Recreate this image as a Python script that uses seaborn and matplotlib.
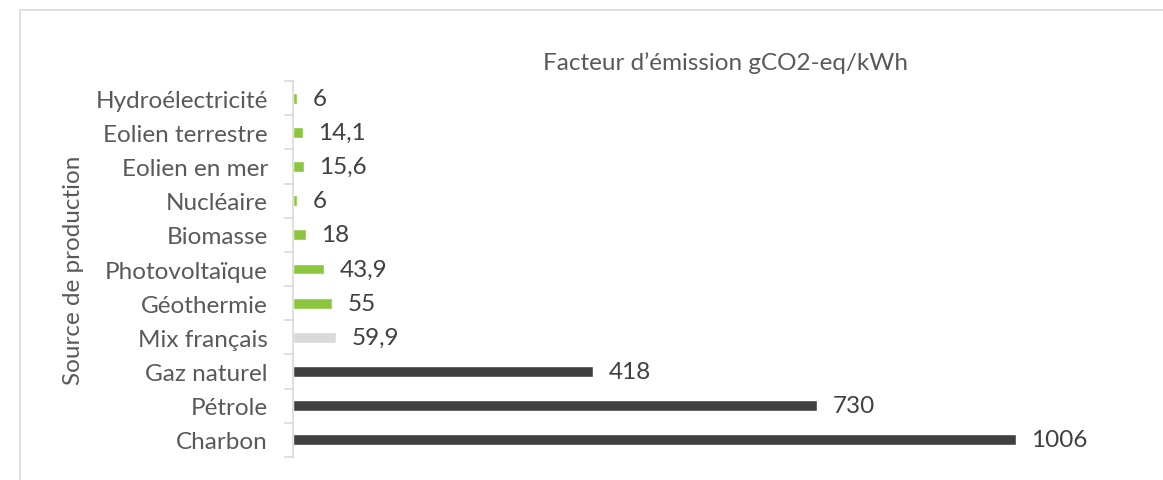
import matplotlib
matplotlib.use("Agg")
import matplotlib.pyplot as plt
import seaborn as sns
import pandas as pd
from matplotlib.patches import Rectangle

sources = ["Hydroélectricité", "Eolien terrestre", "Eolien en mer", "Nucléaire",
           "Biomasse", "Photovoltaïque", "Géothermie", "Mix français",
           "Gaz naturel", "Pétrole", "Charbon"]
emissions = [6, 14.1, 15.6, 6, 18, 43.9, 55, 59.9, 418, 730, 1006]
labels = ["6", "14,1", "15,6", "6", "18", "43,9", "55", "59,9", "418", "730", "1006"]
groups = ["renouvelable"] * 7 + ["mix"] + ["fossile"] * 3

group_order = ["renouvelable", "mix", "fossile"]
group_colors = {"renouvelable": "#8CC63F", "mix": "#D9D9D9", "fossile": "#404040"}

df = pd.DataFrame({"source": sources, "emission": emissions,
                   "groupe": groups, "label": labels})

sns.set_theme(style="white")
plt.rcParams["font.family"] = ["Lato", "DejaVu Sans"]

fig = plt.figure(figsize=(11.63, 4.81), dpi=100)
ax = fig.add_axes([0.2519, 0.0478, 0.9931 - 0.2519, 0.8295 - 0.0478])

sns.barplot(data=df, x="emission", y="source", hue="groupe", hue_order=group_order,
            palette=group_colors, saturation=1, orient="h", width=0.32,
            dodge=False, legend=False, ax=ax)

# One container per group, bars in category order
for grp, container in zip(group_order, ax.containers):
    ax.bar_label(container, labels=list(df.loc[df["groupe"] == grp, "label"]),
                 padding=11, fontsize=17.5, color="#404040")

ax.set_xlim(0, 1200)
ax.set_ylim(len(sources) - 0.5, -0.5)
ax.set_xlabel("")
ax.set_ylabel("Source de production", fontsize=17.5, color="#595959", labelpad=8)
ax.tick_params(axis="y", labelsize=17.5, labelcolor="#595959", left=False, pad=12)
ax.set_xticks([])

for name in ["top", "right", "bottom"]:
    ax.spines[name].set_visible(False)
ax.spines["left"].set_color("#D9D9D9")
ax.spines["left"].set_linewidth(1.2)

# Tick marks at the boundaries between categories
for b in [i - 0.5 for i in range(len(sources) + 1)]:
    ax.plot([-0.009, 0], [b, b], transform=ax.get_yaxis_transform(),
            color="#D9D9D9", lw=1.2, clip_on=False)

fig.text(0.624, 0.868, "Facteur d\u2019émission gCO2-eq/kWh", ha="center", va="center",
         fontsize=17.5, color="#595959")

fig.patches.append(Rectangle((20 / 1163, -0.1), 1.2, 1 - 11 / 481 + 0.1,
                             transform=fig.transFigure, fill=False,
                             edgecolor="#D9D9D9", lw=1.2))

fig.savefig("out.png", dpi=100)
